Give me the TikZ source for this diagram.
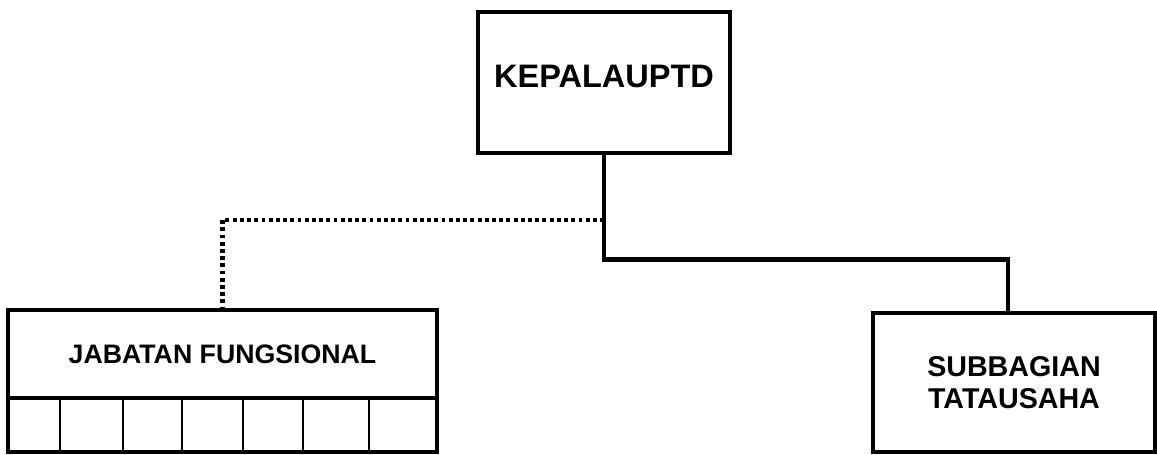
\documentclass[tikz,border=0pt]{standalone}
\usepackage{fontspec}
\setmainfont{Liberation Sans}
\usetikzlibrary{positioning}
\tikzset{
    unitbox/.style={draw=black, line width=2pt, align=center, font=\bfseries},
    solidline/.style={line width=2.6pt},
    dotline/.style={line width=2.3pt, dash pattern=on 2.2pt off 1.9pt}
}
\begin{document}
\begin{tikzpicture}
    \useasboundingbox (0,0) rectangle (23.14,-9.1);

    \node[unitbox, minimum width=5.04cm, minimum height=2.82cm, text depth=0.24cm, font=\fontsize{18.5}{20}\bfseries] (kepala) at (12.08,-1.65) {KEPALAUPTD};
    \node[unitbox, minimum width=8.58cm, minimum height=1.76cm, font=\fontsize{15.2}{17}\bfseries] (jabatan) at (4.45,-7.08) {JABATAN FUNGSIONAL};
    \node[unitbox, minimum width=5.64cm, minimum height=2.78cm, font=\fontsize{16.3}{18}\bfseries] (subbag) at (20.28,-7.65) {SUBBAGIAN\\TATAUSAHA};

    % kotak kecil di bawah jabatan fungsional
    \draw[line width=2pt] (0.16,-7.96) rectangle (8.74,-9.04);
    \foreach \x in {1.2,2.46,3.64,4.86,6.06,7.38}
        \draw[line width=1.4pt] (\x,-7.96) -- (\x,-9.04);

    \draw[solidline] (kepala.south) -- ++(0,-2.1) -| ([xshift=-0.12cm]subbag.north);
    \draw[dotline] ([yshift=-1.3cm]kepala.south) -| (jabatan.north);
\end{tikzpicture}
\end{document}
